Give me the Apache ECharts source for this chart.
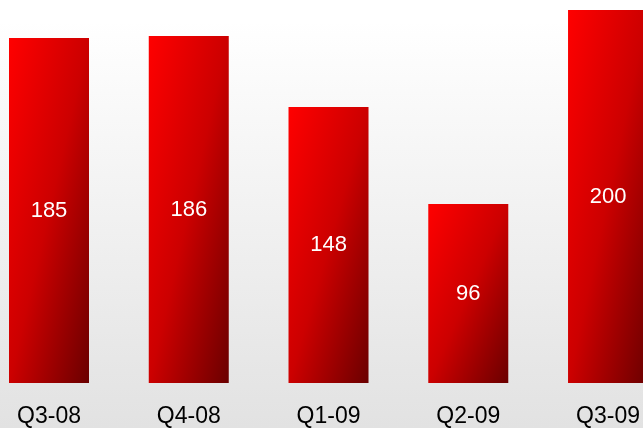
<!DOCTYPE html>
<html>
<head>
<meta charset="utf-8">
<script src="https://cdn.jsdelivr.net/npm/echarts@6/dist/echarts.min.js"></script>
<style>
  html, body { margin: 0; padding: 0; }
  #chart { width: 643px; height: 428px; }
</style>
</head>
<body>
<div id="chart"></div>
<script>
// Quarterly values
const quarters = ['Q3-08', 'Q4-08', 'Q1-09', 'Q2-09', 'Q3-09'];
const values = [185, 186, 148, 96, 200];

const BAR_W = 80;
const GRID_TOP = 10, GRID_BOTTOM = 44, CHART_H = 428;
const Y_MAX = 200;
const pxPerUnit = (CHART_H - GRID_TOP - GRID_BOTTOM) / Y_MAX;

// Diagonal fill whose colour bands run from the bar's top-right corner
// to its bottom-left corner, whatever the bar's aspect ratio.
function barGradient(value) {
  const w = BAR_W, h = Math.max(1, value * pxPerUnit);
  const L2 = w * w + h * h;
  const x2 = 2 * h * h / L2;
  const y2 = 2 * w * w / L2;
  return new echarts.graphic.LinearGradient(0, 0, x2, y2, [
    { offset: 0, color: '#ff0000' },
    { offset: 0.5, color: '#cc0000' },
    { offset: 1, color: '#6a0000' }
  ]);
}

const chart = echarts.init(document.getElementById('chart'), null, { renderer: 'canvas' });

chart.setOption({
  backgroundColor: new echarts.graphic.LinearGradient(0, 0, 0, 1, [
    { offset: 0, color: '#ffffff' },
    { offset: 0.05, color: '#ffffff' },
    { offset: 1, color: '#e2e2e2' }
  ]),
  animation: false,
  grid: { left: 49, right: 34, top: GRID_TOP, bottom: GRID_BOTTOM },
  xAxis: {
    type: 'category',
    data: quarters,
    boundaryGap: false,
    axisLine: { show: false },
    axisTick: { show: false },
    axisLabel: {
      color: '#000',
      fontFamily: 'Liberation Sans, Arial, sans-serif',
      fontSize: 23,
      margin: 22,
      interval: 0
    }
  },
  yAxis: {
    type: 'value',
    min: 0,
    max: Y_MAX,
    show: false,
    splitLine: { show: false }
  },
  series: [{
    type: 'bar',
    clip: false,
    data: values.map(v => ({ value: v, itemStyle: { color: barGradient(v) } })),
    barWidth: BAR_W,
    label: {
      show: true,
      position: 'inside',
      color: '#ffffff',
      fontFamily: 'Liberation Sans, Arial, sans-serif',
      fontSize: 22
    }
  }]
});
</script>
</body>
</html>
